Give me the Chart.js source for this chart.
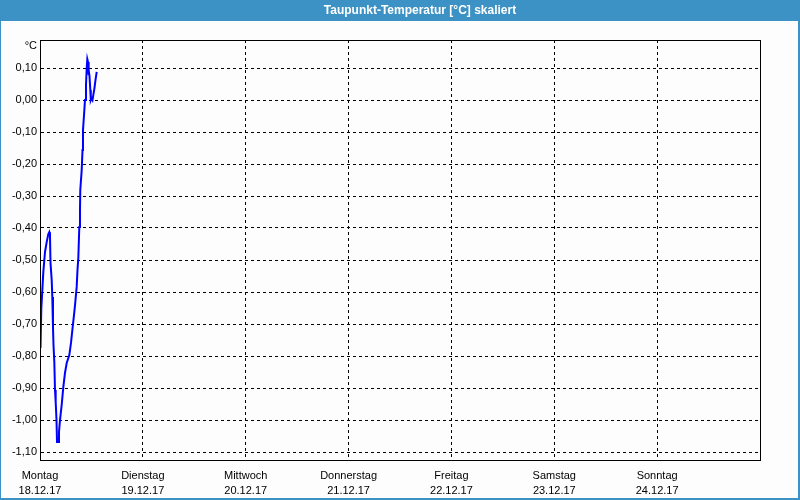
<!DOCTYPE html>
<html>
<head>
<meta charset="utf-8">
<script src="https://cdn.jsdelivr.net/npm/chart.js@4"></script>
<style>
  html, body { margin: 0; padding: 0; background: #fcfdfc; }
  #wrap { width: 800px; height: 500px; position: relative; }
  canvas { display: block; }
</style>
</head>
<body>
<div id="wrap"><canvas id="c" width="800" height="500"></canvas></div>
<script>
// ---- data ----
const titleText = "Taupunkt-Temperatur [°C] skaliert";
const unitLabel = "°C";
const dayNames = ["Montag", "Dienstag", "Mittwoch", "Donnerstag", "Freitag", "Samstag", "Sonntag"];
const dayDates = ["18.12.17", "19.12.17", "20.12.17", "21.12.17", "22.12.17", "23.12.17", "24.12.17"];
const xTickHours = [0, 24, 48, 72, 96, 120, 144];
const yTicks = [0.10, 0.00, -0.10, -0.20, -0.30, -0.40, -0.50, -0.60, -0.70, -0.80, -0.90, -1.00, -1.10];
const yMin = -1.125, yMax = 0.1875;
const xMin = 0, xMax = 168;

const hours = [0.12, 0.30, 0.77, 1.17, 1.56, 1.94, 2.17, 2.33, 2.45, 2.73, 2.87, 3.03, 3.15, 3.34, 3.50, 3.66,
  3.85, 3.97, 4.13, 4.27, 4.43, 4.67, 5.06, 5.44, 5.83, 6.23, 6.84, 7.23, 7.63, 7.93, 8.17, 8.56, 8.75, 8.94,
  9.17, 9.33, 9.40, 9.73, 9.92, 10.03, 10.27, 10.50, 10.73, 10.90, 11.04, 11.20, 11.27, 11.43, 11.55, 11.74,
  11.85, 12.02, 12.25, 12.48, 12.72, 12.95, 13.23];
const temps = [-0.775, -0.653, -0.538, -0.475, -0.444, -0.419, -0.413, -0.425, -0.509, -0.563, -0.616, -0.709,
  -0.766, -0.819, -0.906, -0.944, -1.000, -1.069, -1.063, -1.069, -1.038, -1.000, -0.953, -0.897, -0.853,
  -0.822, -0.797, -0.759, -0.709, -0.672, -0.641, -0.584, -0.531, -0.494, -0.397, -0.344, -0.281, -0.219,
  -0.156, -0.094, -0.047, 0.000, 0.047, 0.100, 0.128, 0.119, 0.078, 0.094, 0.075, 0.031, 0.000, 0.006,
  0.000, 0.019, 0.038, 0.063, 0.088];

const FONT = "'Liberation Sans', Arial, sans-serif";
const FRAME = "#3c92c5";
const BG = "#fcfdfc";

const framePlugin = {
  id: 'frame',
  beforeDraw(chart) {
    const ctx = chart.ctx;
    ctx.save();
    ctx.fillStyle = BG;
    ctx.fillRect(0, 0, 800, 500);
    ctx.fillStyle = FRAME;
    ctx.fillRect(0, 0, 800, 21);
    ctx.fillRect(0, 0, 1, 500);
    ctx.fillRect(798, 0, 2, 500);
    ctx.fillRect(0, 498, 800, 2);
    ctx.fillStyle = "#ffffff";
    ctx.font = "bold 12px " + FONT;
    ctx.textAlign = "center";
    ctx.textBaseline = "middle";
    ctx.fillText(titleText, 420, 11);
    ctx.restore();
  },
  afterDraw(chart) {
    const ctx = chart.ctx;
    const a = chart.chartArea;
    ctx.save();
    ctx.setLineDash([]);
    ctx.strokeStyle = "#000";
    ctx.lineWidth = 1;
    ctx.strokeRect(Math.round(a.left) + 0.5, Math.round(a.top) + 0.5, Math.round(a.right - a.left), Math.round(a.bottom - a.top));
    ctx.fillStyle = "#000";
    ctx.font = "11px " + FONT;
    ctx.textAlign = "right";
    ctx.textBaseline = "middle";
    ctx.fillText(unitLabel, 37, 46);
    ctx.restore();
  }
};

new Chart(document.getElementById('c'), {
  type: 'line',
  data: {
    datasets: [{
      data: hours.map((h, i) => ({ x: h, y: temps[i] })),
      borderColor: '#0000ff',
      borderWidth: 2,
      pointRadius: 0,
      tension: 0,
      fill: false
    }]
  },
  options: {
    responsive: false,
    animation: false,
    events: [],
    layout: { padding: { left: 0, top: 40, right: 40, bottom: 0 } },
    plugins: { legend: { display: false }, title: { display: false }, tooltip: { enabled: false } },
    scales: {
      x: {
        type: 'linear',
        min: xMin, max: xMax,
        afterFit(s) { s.height = 40; },
        afterBuildTicks(s) { s.ticks = xTickHours.map(v => ({ value: v })); },
        grid: { color: '#000', lineWidth: 1, drawTicks: false },
        border: { color: '#000', width: 1, dash: [3, 3] },
        ticks: {
          autoSkip: false, maxRotation: 0, padding: 8,
          color: '#000',
          font: { family: FONT, size: 11, lineHeight: '15px' },
          callback(v) { const i = xTickHours.indexOf(v); return i >= 0 ? [dayNames[i], dayDates[i]] : ''; }
        }
      },
      y: {
        type: 'linear',
        min: yMin, max: yMax,
        afterFit(s) { s.width = 40; },
        afterBuildTicks(s) { s.ticks = yTicks.map(v => ({ value: v })); },
        grid: { color: '#000', lineWidth: 1, drawTicks: false },
        border: { color: '#000', width: 1, dash: [3, 3] },
        ticks: {
          autoSkip: false, padding: 3,
          color: '#000',
          font: { family: FONT, size: 11 },
          callback(v) { return Number(v).toFixed(2).replace('.', ','); }
        }
      }
    }
  },
  plugins: [framePlugin]
});
</script>
</body>
</html>
